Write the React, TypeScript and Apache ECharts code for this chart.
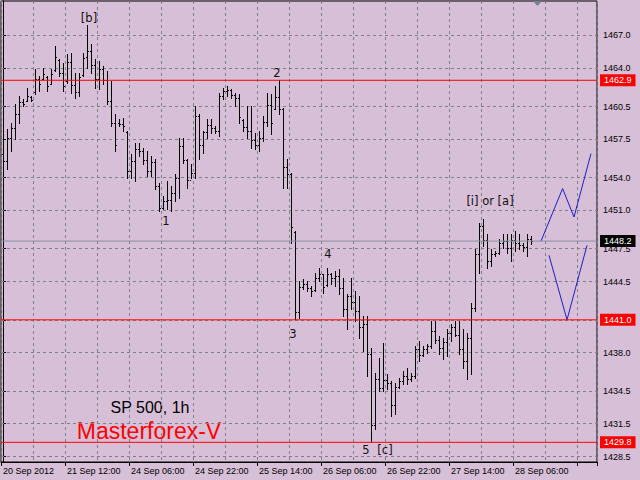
import React, { useEffect, useRef } from "react";
import * as echarts from "echarts";

const tickLabels = [
  "20 Sep 2012", "21 Sep 12:00", "24 Sep 06:00", "24 Sep 22:00", "25 Sep 14:00",
  "26 Sep 06:00", "26 Sep 22:00", "27 Sep 14:00", "28 Sep 06:00",
];
const yTicks = [1467.0, 1464.0, 1460.5, 1457.5, 1454.0, 1451.0, 1447.5, 1444.5, 1441.0, 1438.0, 1434.5, 1431.5, 1428.5];
const yMin = 1428.0;
const yMax = 1470.15;
const slotCount = 149;

const opens = [
  1456.2, 1455.5, 1457.6, 1458.5, 1459.8, 1460.9, 1461.0, 1461.4, 1461.8, 1463.0,
  1463.0, 1463.2, 1462.6, 1463.8, 1464.8, 1463.6, 1462.8, 1464.6, 1462.5, 1461.8,
  1463.4, 1465.0, 1465.6, 1464.3, 1463.0, 1463.9, 1462.9, 1461.0, 1459.0, 1459.0,
  1458.9, 1458.2, 1454.6, 1455.5, 1456.6, 1456.4, 1455.6, 1454.6, 1455.4, 1453.2,
  1451.2, 1451.9, 1452.0, 1452.6, 1454.0, 1456.9, 1455.6, 1453.8, 1454.4, 1459.6,
  1457.0, 1458.2, 1458.8, 1458.5, 1458.3, 1461.5, 1461.9, 1462.0, 1461.6, 1461.3,
  1459.3, 1458.6, 1458.3, 1457.4, 1457.0, 1457.6, 1459.1, 1460.6, 1460.3, 1461.4,
  1460.3, 1455.0, 1454.3, 1449.0, 1441.7, 1444.0, 1444.3, 1443.9, 1443.7, 1444.8,
  1445.2, 1444.2, 1445.2, 1444.8, 1445.0, 1443.9, 1442.0, 1443.2, 1442.6, 1441.8,
  1440.3, 1440.6, 1437.9, 1431.4, 1435.6, 1434.8, 1435.5, 1435.2, 1433.2, 1434.9,
  1435.4, 1435.9, 1435.6, 1435.9, 1438.3, 1437.8, 1438.3, 1438.6, 1440.0, 1439.2,
  1438.4, 1439.0, 1439.8, 1440.3, 1439.6, 1438.3, 1437.2, 1439.3, 1442.1, 1447.0,
  1449.6, 1448.3, 1446.4, 1447.0, 1447.1, 1448.0, 1448.2, 1447.6, 1448.3, 1448.0,
  1447.8, 1447.7, 1448.4,
];
const highs = [
  1458.70, 1458.42, 1458.97, 1460.70, 1461.43, 1461.16, 1462.16, 1461.43, 1463.90, 1463.26,
  1463.99, 1463.26, 1463.90, 1466.00, 1464.81, 1464.45, 1465.27, 1465.36, 1463.53, 1463.53,
  1465.36, 1468.00, 1466.18, 1464.81, 1464.63, 1464.17, 1463.72, 1462.80, 1459.79, 1459.34,
  1459.43, 1458.24, 1456.14, 1457.15, 1457.15, 1456.69, 1456.42, 1455.96, 1455.69, 1453.50,
  1452.31, 1453.68, 1453.22, 1454.32, 1457.60, 1457.60, 1455.69, 1455.23, 1460.52, 1459.79,
  1458.24, 1459.34, 1459.34, 1458.70, 1461.71, 1462.16, 1462.35, 1462.07, 1461.71, 1461.62,
  1459.34, 1460.52, 1460.52, 1458.06, 1458.24, 1459.61, 1461.71, 1461.62, 1462.35, 1462.90,
  1460.34, 1455.69, 1454.41, 1449.12, 1444.55, 1444.74, 1444.55, 1444.10, 1445.28, 1445.74,
  1445.19, 1445.74, 1445.28, 1445.47, 1445.65, 1444.83, 1443.37, 1444.83, 1443.64, 1443.18,
  1441.36, 1441.36, 1438.45, 1436.16, 1437.53, 1438.90, 1436.07, 1435.43, 1435.25, 1435.71,
  1436.34, 1436.62, 1436.16, 1438.63, 1439.08, 1438.63, 1438.81, 1440.91, 1440.91, 1439.54,
  1439.36, 1440.18, 1440.63, 1440.91, 1440.91, 1440.18, 1439.81, 1442.55, 1447.47, 1449.85,
  1450.21, 1448.84, 1447.47, 1447.29, 1448.38, 1448.84, 1448.84, 1448.84, 1449.12, 1448.84,
  1448.02, 1448.84, 1448.66,
];
const lows = [
  1454.41, 1454.77, 1456.42, 1457.51, 1458.97, 1460.52, 1460.98, 1460.98, 1461.62, 1461.89,
  1462.99, 1461.89, 1462.53, 1463.72, 1463.26, 1461.89, 1462.62, 1461.71, 1461.25, 1461.43,
  1463.26, 1463.99, 1463.53, 1462.16, 1462.07, 1462.53, 1460.70, 1458.70, 1456.42, 1458.70,
  1458.24, 1453.95, 1453.95, 1453.68, 1455.96, 1455.23, 1454.13, 1454.13, 1452.95, 1450.94,
  1451.12, 1451.12, 1450.94, 1451.85, 1452.13, 1455.32, 1453.04, 1453.95, 1453.95, 1455.69,
  1456.23, 1457.60, 1458.06, 1458.06, 1457.78, 1461.16, 1461.43, 1461.25, 1460.52, 1458.97,
  1458.24, 1457.60, 1456.69, 1456.60, 1456.42, 1457.33, 1458.70, 1457.97, 1460.25, 1459.79,
  1453.04, 1453.04, 1448.02, 1441.05, 1441.18, 1443.82, 1443.64, 1443.18, 1443.64, 1444.55,
  1443.46, 1444.10, 1444.28, 1444.10, 1443.37, 1441.36, 1440.18, 1442.00, 1440.91, 1439.36,
  1438.17, 1435.89, 1429.80, 1431.05, 1434.52, 1434.52, 1434.70, 1432.24, 1432.42, 1434.79,
  1435.16, 1435.16, 1435.43, 1435.71, 1437.26, 1437.72, 1437.99, 1438.45, 1438.90, 1437.90,
  1437.40, 1437.72, 1439.08, 1439.50, 1437.90, 1436.62, 1435.61, 1436.07, 1441.82, 1445.28,
  1447.75, 1445.74, 1445.92, 1446.83, 1447.01, 1447.56, 1447.10, 1446.38, 1447.29, 1447.47,
  1447.29, 1446.83, 1447.93,
];
const closes = [
  1455.5, 1457.6, 1458.5, 1459.8, 1460.9, 1460.7, 1461.5, 1461.1, 1463.0, 1462.6,
  1463.5, 1462.4, 1463.5, 1465.0, 1463.6, 1462.4, 1464.6, 1462.5, 1461.8, 1463.2,
  1464.9, 1465.6, 1464.3, 1463.0, 1463.9, 1462.9, 1461.0, 1459.0, 1457.0, 1458.9,
  1458.7, 1454.6, 1455.5, 1456.6, 1456.4, 1455.6, 1454.6, 1455.4, 1453.2, 1451.2,
  1451.9, 1452.0, 1452.6, 1454.0, 1456.9, 1455.6, 1453.8, 1454.4, 1459.6, 1457.0,
  1458.2, 1458.8, 1458.5, 1458.3, 1461.5, 1461.9, 1462.0, 1461.6, 1461.3, 1459.5,
  1458.6, 1458.3, 1457.4, 1457.0, 1457.6, 1459.1, 1460.6, 1459.0, 1461.4, 1460.3,
  1455.0, 1454.3, 1449.5, 1441.7, 1444.0, 1444.3, 1443.9, 1443.6, 1444.8, 1445.2,
  1444.0, 1445.2, 1444.8, 1445.0, 1443.9, 1442.0, 1443.2, 1442.6, 1441.8, 1440.3,
  1440.6, 1437.9, 1431.4, 1435.6, 1434.8, 1435.5, 1435.2, 1433.2, 1434.9, 1435.4,
  1435.9, 1435.6, 1435.9, 1438.3, 1437.8, 1438.3, 1438.6, 1440.0, 1439.2, 1438.4,
  1439.0, 1439.8, 1440.3, 1439.6, 1438.3, 1437.2, 1439.3, 1442.1, 1447.0, 1449.6,
  1448.3, 1446.4, 1447.0, 1447.1, 1448.0, 1448.2, 1447.6, 1448.3, 1448.0, 1447.8,
  1447.7, 1448.4, 1448.2,
];

const levels = [1462.9, 1441.0, 1429.8];
const lastPrice = 1448.2;

const upperPath = [[134.5, 1448.2], [139.9, 1453.0], [142.75, 1450.4], [147.0, 1456.2]];
const lowerPath = [[136.5, 1446.9], [141.0, 1441.0], [146.0, 1447.8]];

const waveNames = ["[b]", "2", "1", "3", "4", "5", "[c]", "[i] or [a]"];
const waveAt = [
  [21.5, 1468.6], [68.5, 1463.6], [40.75, 1450.0], [72.5, 1439.7],
  [81.25, 1447.0], [90.75, 1429.1], [95.5, 1429.1], [121.75, 1451.85],
];

const AXIS_FONT = "Liberation Sans";

export default function App() {
  const ref = useRef<HTMLDivElement>(null);
  useEffect(() => {
    document.body.style.margin = "0";
    const chart = echarts.init(ref.current!, null, { renderer: "svg" });
    const categories = Array.from({ length: slotCount }, (_, i) => String(i));
    const ohlc = opens.map((o, i) => [i, o, highs[i], lows[i], closes[i]]);

    const renderItem = (params: any, api: any) => {
      const x = api.value(0);
      const o = api.coord([x, api.value(1)]);
      const h = api.coord([x, api.value(2)]);
      const l = api.coord([x, api.value(3)]);
      const c = api.coord([x, api.value(4)]);
      const X = Math.round(h[0]);
      const px = X + 0.5;
      const yo = Math.round(o[1]) + 0.5;
      const yc = Math.round(c[1]) + 0.5;
      const st = { stroke: "#000", lineWidth: 1 };
      return {
        type: "group",
        children: [
          { type: "line", shape: { x1: px, y1: Math.round(h[1]), x2: px, y2: Math.round(l[1]) + 1 }, style: st },
          { type: "line", shape: { x1: X - 1, y1: yo, x2: X, y2: yo }, style: st },
          { type: "line", shape: { x1: X + 1, y1: yc, x2: X + 2, y2: yc }, style: st },
        ],
      };
    };

    const levelSeries = (value: number, lineColor: string, badgeColor: string, name: string) => ({
      name,
      type: "line",
      xAxisIndex: 1,
      yAxisIndex: 0,
      data: [[-0.5, value], [slotCount - 0.5, value]],
      symbol: "none",
      silent: true,
      z: 5,
      color: lineColor,
      lineStyle: { color: lineColor, width: 1, type: "solid" },
      endLabel: {
        show: true,
        distance: 3,
        color: "#fff",
        backgroundColor: badgeColor,
        padding: [2, 4, 1, 4],
        fontFamily: AXIS_FONT,
        fontSize: 9,
        formatter: () => value.toFixed(1),
      },
    });

    const option: any = {
      animation: false,
      backgroundColor: "#D8BFD8",
      textStyle: { fontFamily: AXIS_FONT },
      grid: {
        left: 1, top: 1, right: 43, bottom: 18,
        show: true, borderColor: "#000", borderWidth: 1, backgroundColor: "transparent",
      },
      xAxis: [
        {
          type: "category",
          data: categories,
          boundaryGap: true,
          axisLine: { lineStyle: { color: "#000" } },
          axisTick: { show: true, interval: 15, length: 4, lineStyle: { color: "#000" } },
          axisLabel: {
            interval: 15,
            align: "left",
            margin: 4,
            color: "#000",
            fontFamily: AXIS_FONT,
            fontSize: 9,
            formatter: (v: string, idx: number) => tickLabels[idx / 16] ?? "",
          },
          splitLine: { show: true, interval: 7, lineStyle: { color: "#80808a", type: [3, 3], width: 1 } },
        },
        { type: "value", min: -0.5, max: slotCount - 0.5, show: false },
      ],
      yAxis: {
        type: "value",
        position: "right",
        min: yMin,
        max: yMax,
        axisLine: { show: true, lineStyle: { color: "#000" } },
        axisTick: { show: true, customValues: yTicks, length: 3, lineStyle: { color: "#000" } },
        axisLabel: {
          customValues: yTicks,
          margin: 6,
          color: "#000",
          fontFamily: AXIS_FONT,
          fontSize: 9,
          formatter: (v: number) => v.toFixed(1),
        },
        splitLine: { show: false },
      },
      graphic: [
        {
          type: "text", x: 150, y: 407,
          style: { text: "SP 500, 1h", fill: "#000", fontSize: 16, fontFamily: "Liberation Sans", align: "center", verticalAlign: "middle" },
        },
        {
          type: "text", x: 149, y: 431,
          style: { text: "Masterforex-V", fill: "#ff0000", fontSize: 23, fontFamily: "Liberation Sans", align: "center", verticalAlign: "middle" },
        },
        { type: "polygon", shape: { points: [[533, 1], [542, 1], [537.5, 6]] }, style: { fill: "#708090" } },
      ],
      series: [
        {
          name: "Upper projection",
          type: "line",
          xAxisIndex: 1,
          yAxisIndex: 0,
          data: upperPath,
          symbol: "none",
          z: 4,
          color: "#80808a",
          lineStyle: { color: "#1e1ec8", width: 1 },
          markLine: {
            silent: true,
            z: 1,
            symbol: ["none", "none"],
            label: { show: false },
            lineStyle: { color: "#80808a", type: [3, 3], width: 1 },
            data: yTicks.map((v) => ({ yAxis: v })),
          },
        },
        {
          name: "SP 500",
          type: "custom",
          xAxisIndex: 0,
          yAxisIndex: 0,
          z: 3,
          data: ohlc,
          encode: { x: 0, y: [1, 2, 3, 4] },
          renderItem,
        },
        levelSeries(lastPrice, "#8890a0", "#000", "Last price"),
        ...levels.map((v) => levelSeries(v, "#ff0000", "#ff0000", "Level " + v.toFixed(1))),
        {
          name: "Lower projection",
          type: "line",
          xAxisIndex: 1,
          yAxisIndex: 0,
          data: lowerPath,
          symbol: "none",
          z: 4,
          color: "#1e1ec8",
          lineStyle: { color: "#1e1ec8", width: 1 },
          markPoint: {
            silent: true,
            symbol: "circle",
            symbolSize: 1,
            itemStyle: { color: "rgba(0,0,0,0)" },
            label: {
              show: true,
              position: "inside",
              color: "#111",
              fontFamily: "DejaVu Sans",
              fontSize: 11.5,
              formatter: "{b}",
            },
            data: waveNames.map((n, i) => ({ name: n, coord: waveAt[i], value: 0 })),
          },
        },
      ],
    };
    chart.setOption(option);
    return () => chart.dispose();
  }, []);
  return <div ref={ref} style={{ width: 640, height: 480 }} />;
}
